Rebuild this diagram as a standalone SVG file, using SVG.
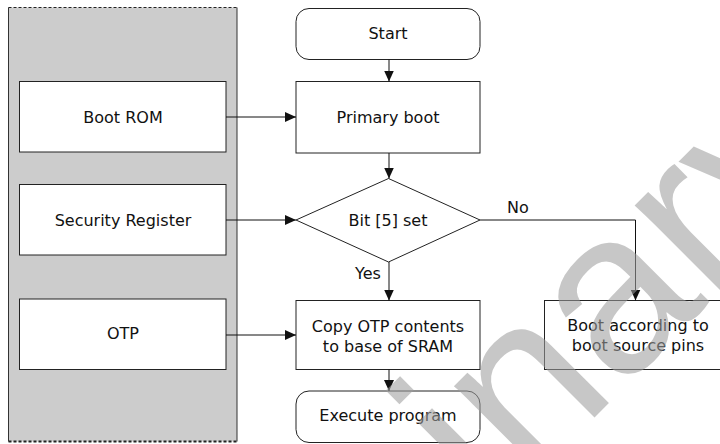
<svg xmlns="http://www.w3.org/2000/svg" width="720" height="444" viewBox="0 0 720 444">
<style>
.box{fill:#fff;stroke:#222;stroke-width:1}
.t{font-family:"DejaVu Sans",sans-serif;font-size:16px;fill:#111;text-anchor:middle}
.ln{fill:none;stroke:#111;stroke-width:1}
.wm{font-family:"Liberation Sans",Arial,sans-serif;font-size:230px;fill:#9e9e9e;opacity:0.57}
</style>
<defs>
<marker id="ah" markerWidth="11" markerHeight="10" refX="11" refY="5" orient="auto" markerUnits="userSpaceOnUse">
<path d="M0,0 L11,5 L0,10 Z" fill="#111"/>
</marker>
</defs>
<rect width="720" height="444" fill="#fff"/>
<g id="panel">
<rect x="8.5" y="7.5" width="228.5" height="434" fill="#cccccc"/>
<line x1="8.5" y1="7.5" x2="237" y2="7.5" stroke="#222" stroke-width="1" stroke-dasharray="3,2"/>
<line x1="8.5" y1="441.5" x2="237" y2="441.5" stroke="#222" stroke-width="2" stroke-dasharray="3,2"/>
<line x1="8.5" y1="7.5" x2="8.5" y2="441.5" stroke="#333" stroke-width="1"/>
<line x1="237" y1="7.5" x2="237" y2="441.5" stroke="#333" stroke-width="1"/>
</g>
<g id="bootrom"><rect class="box" x="19.5" y="81.5" width="206.5" height="70.5"/><text class="t" x="123" y="123">Boot ROM</text></g>
<g id="secreg"><rect class="box" x="19.5" y="184.5" width="206.5" height="70.5"/><text class="t" x="123" y="226">Security Register</text></g>
<g id="otp"><rect class="box" x="19.5" y="299" width="206.5" height="70.5"/><text class="t" x="123" y="339">OTP</text></g>
<g id="start"><rect class="box" x="296" y="8.5" width="184" height="51" rx="13"/><text class="t" x="388" y="39">Start</text></g>
<g id="primary"><rect class="box" x="296" y="81.5" width="184" height="71.5"/><text class="t" x="388" y="123">Primary boot</text></g>
<g id="decision"><path class="box" d="M388.5,178.5 L480,220 L388.5,262 L296,220 Z"/><text class="t" x="388" y="226">Bit [5] set</text></g>
<g id="copy"><rect class="box" x="296" y="300.5" width="184" height="69"/><text class="t" x="388" y="332">Copy OTP contents</text><text class="t" x="388" y="352">to base of SRAM</text></g>
<g id="execute"><rect class="box" x="296" y="391" width="184" height="51.5" rx="13"/><text class="t" x="388" y="421">Execute program</text></g>
<g id="bootpins"><rect class="box" x="544.5" y="300.5" width="187" height="69"/><text class="t" x="638" y="331">Boot according to</text><text class="t" x="638" y="351">boot source pins</text></g>
<g id="connectors">
<line class="ln" x1="389" y1="59.5" x2="389" y2="81.5" marker-end="url(#ah)"/>
<line class="ln" x1="389" y1="153" x2="389" y2="178.5" marker-end="url(#ah)"/>
<line class="ln" x1="389" y1="262" x2="389" y2="300.5" marker-end="url(#ah)"/>
<line class="ln" x1="389" y1="369.5" x2="389" y2="391" marker-end="url(#ah)"/>
<polyline class="ln" points="480,220 635.5,220 635.5,300.5" marker-end="url(#ah)"/>
<line class="ln" x1="226" y1="117" x2="296" y2="117" marker-end="url(#ah)"/>
<line class="ln" x1="226" y1="220" x2="296" y2="220" marker-end="url(#ah)"/>
<line class="ln" x1="226" y1="335" x2="296" y2="335" marker-end="url(#ah)"/>
<text class="t" x="518" y="213">No</text>
<text class="t" x="368" y="279">Yes</text>
</g>
<text class="wm" transform="translate(32,980) rotate(-45)">Preliminary</text>
</svg>
